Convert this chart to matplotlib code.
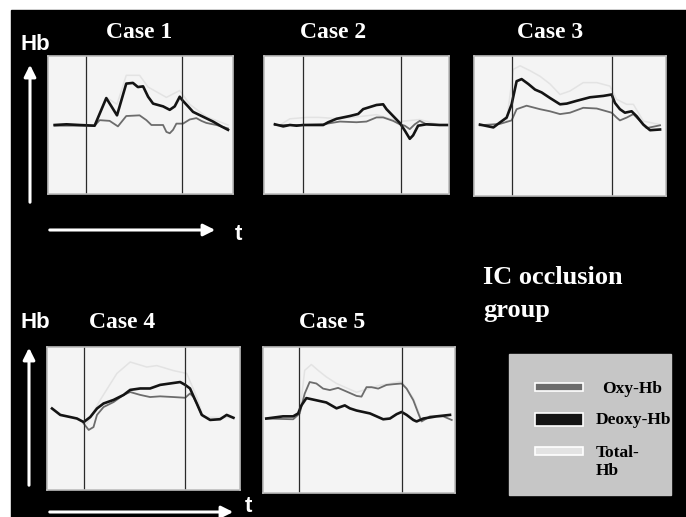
import matplotlib.pyplot as plt
from matplotlib.patches import Rectangle

# time axis is percent of recording, values in arbitrary Hb units (baseline = 0)
case_titles = ["Case 1", "Case 2", "Case 3", "Case 4", "Case 5"]
occlusion_start = [20.4, 20.9, 20.0, 19.3, 18.8]
occlusion_end = [72.4, 73.9, 71.7, 71.6, 72.2]

case1_deoxy_t = [3.6, 10, 17, 25.2, 31.5, 37.3, 42.3, 45.9, 48.6, 51.4, 54.1, 56.8, 62.2, 65.8,
                 68.5, 71.2, 72.6, 75.7, 78.4, 83.8, 89.2, 93.7, 97.3]
case1_deoxy_v = [0.0, 0.01, 0.0, -0.01, 0.39, 0.14, 0.60, 0.61, 0.55, 0.56, 0.41, 0.31, 0.27, 0.22,
                 0.27, 0.41, 0.36, 0.27, 0.19, 0.12, 0.05, -0.02, -0.07]
case1_oxy_t = [3.6, 25.2, 27.9, 33.3, 37.8, 42.3, 49.5, 53.2, 55.9, 62.2, 64.0, 65.8, 67.6, 69.4,
               73.0, 76.6, 80.2, 82.9, 85.6, 91.0, 97.3]
case1_oxy_v = [-0.01, -0.01, 0.07, 0.06, -0.02, 0.13, 0.14, 0.07, 0.0, 0.0, -0.10, -0.12, -0.07, 0.02,
               0.02, 0.08, 0.10, 0.06, 0.03, 0.0, -0.05]
case1_total_t = [25.2, 31.5, 37.3, 42.3, 49.5, 54.1, 64.0, 71.2, 76.6, 85.6, 97.3]
case1_total_v = [0.0, 0.40, 0.30, 0.72, 0.72, 0.55, 0.40, 0.50, 0.30, 0.12, 0.0]

case2_deoxy_t = [5.9, 10.4, 14.0, 17.6, 21.2, 32.0, 34.7, 39.2, 46.4, 50.9, 53.6, 57.2, 60.8, 64.4,
                 66.2, 69.8, 73.4, 76.1, 78.8, 80.6, 83.3, 87.8, 95.0, 99.5]
case2_deoxy_v = [0.01, -0.02, 0.0, -0.01, 0.0, 0.0, 0.04, 0.09, 0.13, 0.16, 0.23, 0.26, 0.29, 0.30,
                 0.23, 0.13, 0.03, -0.08, -0.20, -0.15, -0.01, 0.01, 0.0, 0.0]
case2_oxy_t = [5.9, 21.2, 32.0, 41.0, 50.0, 55.4, 60.8, 64.4, 69.8, 73.4, 76.1, 78.8, 81.5, 84.2,
               87.8, 95.0]
case2_oxy_v = [0.0, 0.0, 0.01, 0.05, 0.04, 0.05, 0.11, 0.11, 0.06, 0.01, -0.01, -0.06, 0.01, 0.06,
               0.01, 0.0]
case2_total_t = [8.6, 14.0, 23.0, 30.0, 41.0, 60.8, 73.4, 84.2, 89.6, 95.0]
case2_total_v = [0.0, 0.09, 0.11, 0.11, 0.09, 0.15, 0.05, 0.08, 0.04, 0.0]

case3_deoxy_t = [3.1, 6.6, 10.1, 13.5, 17.0, 19.6, 22.2, 24.8, 28.3, 31.8, 35.2, 39.6, 44.8, 48.3,
                 53.5, 60.4, 67.4, 71.7, 73.4, 76.0, 78.6, 82.1, 84.7, 88.2, 91.7, 96.9]
case3_deoxy_v = [0.02, 0.0, -0.02, 0.05, 0.12, 0.31, 0.64, 0.67, 0.60, 0.52, 0.48, 0.40, 0.31, 0.32,
                 0.36, 0.41, 0.43, 0.45, 0.33, 0.24, 0.19, 0.21, 0.14, 0.02, -0.06, -0.05]
case3_oxy_t = [3.1, 13.5, 19.6, 22.2, 27.4, 34.4, 39.6, 44.8, 50.0, 56.9, 63.9, 71.7, 74.3, 76.0,
               79.5, 83.0, 86.5, 89.9, 96.9]
case3_oxy_v = [0.01, 0.03, 0.08, 0.24, 0.29, 0.24, 0.21, 0.17, 0.19, 0.26, 0.25, 0.19, 0.12, 0.08,
               0.12, 0.17, 0.07, -0.03, 0.01]
case3_total_t = [17.0, 20.5, 24.0, 29.2, 34.4, 39.6, 44.8, 50.0, 56.9, 63.9, 70.8, 74.3, 79.5, 83.0,
                 88.2, 96.9]
case3_total_v = [0.07, 0.81, 0.86, 0.79, 0.71, 0.60, 0.45, 0.50, 0.62, 0.62, 0.57, 0.38, 0.31, 0.31,
                 0.07, 0.02]

case4_deoxy_t = [2.6, 6.9, 12.1, 15.5, 19.0, 22.4, 25.9, 29.3, 34.5, 39.7, 43.1, 48.3, 53.4, 58.6,
                 63.8, 69.0, 71.6, 74.1, 77.6, 80.2, 84.5, 89.7, 93.1, 96.6]
case4_deoxy_v = [0.14, 0.05, 0.02, 0.0, -0.05, 0.02, 0.14, 0.21, 0.26, 0.33, 0.40, 0.42, 0.42, 0.47,
                 0.49, 0.51, 0.47, 0.42, 0.21, 0.05, -0.02, -0.01, 0.05, 0.01]
case4_oxy_t = [19.0, 21.6, 24.1, 25.9, 29.3, 34.5, 39.7, 43.1, 48.3, 53.4, 58.6, 65.5, 71.6, 74.1,
               75.9, 77.6, 80.2]
case4_oxy_v = [-0.07, -0.16, -0.12, 0.05, 0.16, 0.23, 0.33, 0.37, 0.33, 0.30, 0.31, 0.30, 0.29, 0.35,
               0.30, 0.21, 0.05]
case4_total_t = [20.7, 27.6, 36.2, 43.1, 51.7, 56.9, 65.5, 72.4, 77.6, 81.0, 96.6]
case4_total_v = [-0.07, 0.26, 0.63, 0.79, 0.72, 0.74, 0.67, 0.63, 0.30, 0.02, 0.01]

case5_deoxy_t = [1.7, 10.4, 15.7, 18.3, 20.0, 22.6, 27.8, 33.0, 38.3, 42.6, 45.2, 48.7, 55.7, 62.6,
                 66.1, 69.6, 72.2, 74.8, 78.3, 80.0, 83.5, 90.4, 97.4]
case5_deoxy_v = [0.02, 0.05, 0.05, 0.09, 0.20, 0.30, 0.27, 0.24, 0.16, 0.20, 0.16, 0.13, 0.09, 0.01,
                 0.02, 0.08, 0.11, 0.07, 0.0, -0.02, 0.02, 0.05, 0.07]
case5_oxy_t = [1.7, 15.7, 19.1, 21.7, 24.3, 27.8, 31.3, 34.8, 39.1, 43.5, 48.7, 51.3, 53.9, 56.5,
               60.0, 64.3, 67.8, 72.2, 74.8, 78.3, 80.9, 82.6, 87.0, 93.9, 98.3]
case5_oxy_v = [0.02, 0.01, 0.09, 0.36, 0.52, 0.50, 0.43, 0.41, 0.44, 0.39, 0.33, 0.32, 0.45, 0.45,
               0.43, 0.48, 0.49, 0.50, 0.43, 0.27, 0.09, -0.02, 0.05, 0.05, 0.0]
case5_total_t = [19.1, 21.7, 25.2, 28.7, 33.0, 38.3, 48.7, 60.0, 72.2, 78.3, 82.6]
case5_total_v = [0.07, 0.68, 0.76, 0.68, 0.59, 0.50, 0.38, 0.47, 0.53, 0.30, 0.0]

legend_labels = ["Oxy-Hb", "Deoxy-Hb", "Total-\nHb"]

oxy_color = "#6c6c6c"
deoxy_color = "#141414"
total_color = "#e3e3e3"

W, H = 686, 517
fig = plt.figure(figsize=(W / 100, H / 100), dpi=100, facecolor="white")

# pixel-coordinate overlay for background, arrows and text
bg = fig.add_axes([0, 0, 1, 1])
bg.set_xlim(0, W)
bg.set_ylim(H, 0)
bg.axis("off")
bg.add_patch(Rectangle((11, 10), W - 11, H - 10, color="black", zorder=0))


def px_axes(x0, y0, x1, y1):
    return fig.add_axes([x0 / W, 1 - y1 / H, (x1 - x0) / W, (y1 - y0) / H])


panel_boxes = [(48, 56, 233, 194), (264, 56, 449, 194), (474, 56, 666, 196),
               (47, 347, 240, 490), (263, 347, 455, 493)]
title_pos = [(139, 32), (333, 32), (550, 32), (122, 322), (332, 322)]

series = [
    (case1_total_t, case1_total_v, case1_oxy_t, case1_oxy_v, case1_deoxy_t, case1_deoxy_v),
    (case2_total_t, case2_total_v, case2_oxy_t, case2_oxy_v, case2_deoxy_t, case2_deoxy_v),
    (case3_total_t, case3_total_v, case3_oxy_t, case3_oxy_v, case3_deoxy_t, case3_deoxy_v),
    (case4_total_t, case4_total_v, case4_oxy_t, case4_oxy_v, case4_deoxy_t, case4_deoxy_v),
    (case5_total_t, case5_total_v, case5_oxy_t, case5_oxy_v, case5_deoxy_t, case5_deoxy_v),
]

for i, box in enumerate(panel_boxes):
    ax = px_axes(*box)
    ax.set_facecolor("#f4f4f4")
    tt, tv, ot, ov, dt, dv = series[i]
    ax.plot(tt, tv, color=total_color, lw=1.1)
    ax.plot(ot, ov, color=oxy_color, lw=1.3)
    ax.plot(dt, dv, color=deoxy_color, lw=1.9)
    ax.axvline(occlusion_start[i], color="#2a2a2a", lw=0.9)
    ax.axvline(occlusion_end[i], color="#2a2a2a", lw=0.9)
    ax.set_xlim(0, 100)
    ax.set_ylim(-1, 1)
    ax.set_xticks([])
    ax.set_yticks([])
    for s in ax.spines.values():
        s.set_color("#bdbdbd")
        s.set_linewidth(1.2)
    bg.text(title_pos[i][0], title_pos[i][1], case_titles[i], color="white",
            fontsize=17, fontweight="bold", family="Liberation Serif",
            ha="center", va="center")

# axis arrows
arrow_kw = dict(arrowstyle="-|>,head_length=0.7,head_width=0.35", color="white", lw=2.2)
bg.annotate("", xy=(30, 62), xytext=(30, 205), arrowprops=arrow_kw)
bg.annotate("", xy=(218, 230), xytext=(47, 230), arrowprops=arrow_kw)
bg.annotate("", xy=(29, 345), xytext=(29, 488), arrowprops=arrow_kw)
bg.annotate("", xy=(236, 512), xytext=(47, 512), arrowprops=arrow_kw)
sans = dict(color="white", fontweight="bold", family="Liberation Sans", va="center")
bg.text(20, 44, "Hb", fontsize=16, ha="left", **sans)
bg.text(20, 322, "Hb", fontsize=16, ha="left", **sans)
bg.text(238, 234, "t", fontsize=16, ha="center", **sans)
bg.text(248, 507, "t", fontsize=16, ha="center", **sans)

bg.text(483, 277, "IC occlusion", color="white", fontsize=19, fontweight="bold",
        family="Liberation Serif", ha="left", va="center")
bg.text(483, 310, "group", color="white", fontsize=19, fontweight="bold",
        family="Liberation Serif", ha="left", va="center")

# legend box
bg.add_patch(Rectangle((509, 354), 162, 141, color="#c6c6c6", zorder=1))
swatches = [(383, 8, oxy_color), (413, 13, deoxy_color), (447, 8, total_color)]
text_pos = [(602, 389), (596, 420), (596, 462)]
for (y, h, c), (tx, ty), lab in zip(swatches, text_pos, legend_labels):
    bg.add_patch(Rectangle((535, y), 48, h, facecolor=c, edgecolor="white", lw=1.2, zorder=2))
    bg.text(tx, ty, lab, color="black", fontsize=12.5, fontweight="bold",
            family="Liberation Serif", ha="left", va="center", linespacing=1.1, zorder=3)

fig.savefig("out.png", dpi=100, facecolor="white")
